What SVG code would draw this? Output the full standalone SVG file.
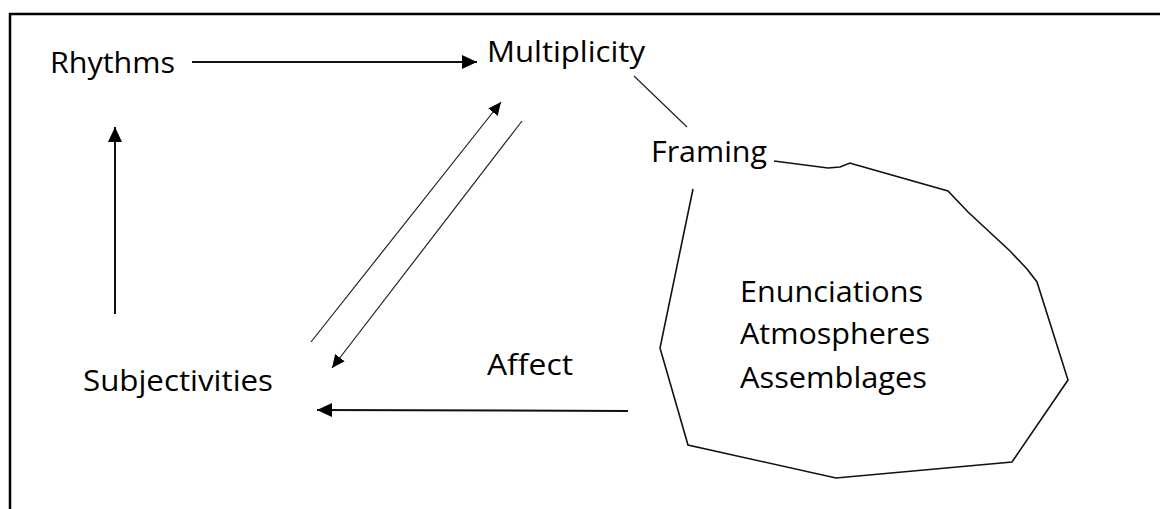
<svg xmlns="http://www.w3.org/2000/svg" width="1160" height="509" viewBox="0 0 1160 509">
<style>
  .lbl { font-family: "Open Sans", "Liberation Sans", Arial, sans-serif; font-size: 30px; fill: #000; }
  .frame { fill: none; stroke: #000; stroke-width: 2.5; }
  .thick { fill: none; stroke: #111; stroke-width: 2; }
  .thin { fill: none; stroke: #222; stroke-width: 1.2; }
  .poly { fill: none; stroke: #111; stroke-width: 1.6; stroke-linejoin: miter; }
</style>
<defs>
  <marker id="ah" markerUnits="userSpaceOnUse" markerWidth="16" markerHeight="14" refX="15" refY="7" orient="auto">
    <path d="M0,0 L15,7 L0,14 z" fill="#000"/>
  </marker>
  <marker id="ahs" markerUnits="userSpaceOnUse" markerWidth="14" markerHeight="12" refX="13" refY="6" orient="auto">
    <path d="M0,0 L13,6 L0,12 z" fill="#000"/>
  </marker>
</defs>
<rect width="1160" height="509" fill="#fff"/>
<path class="frame" d="M10,509 L10,14 L1160,14"/>

<g id="rhythms"><text class="lbl" x="50" y="73" textLength="125" lengthAdjust="spacingAndGlyphs">Rhythms</text></g>
<g id="multiplicity"><text class="lbl" x="487" y="62" textLength="158" lengthAdjust="spacingAndGlyphs">Multiplicity</text></g>
<g id="framing"><text class="lbl" x="651" y="162" textLength="116" lengthAdjust="spacingAndGlyphs">Framing</text>
  <polyline class="poly" points="774,161 828,168 840,167 850,163 853,164 948,191 968,212 1010,251 1027,269 1037,282 1068,380 1012,462 836,478 688,445 660,348 693,189"/>
</g>
<g id="inner">
  <text class="lbl" x="740" y="302" textLength="183" lengthAdjust="spacingAndGlyphs">Enunciations</text>
  <text class="lbl" x="740" y="344" textLength="190" lengthAdjust="spacingAndGlyphs">Atmospheres</text>
  <text class="lbl" x="740" y="388" textLength="187" lengthAdjust="spacingAndGlyphs">Assemblages</text>
</g>
<g id="subjectivities"><text class="lbl" x="83" y="391" textLength="190" lengthAdjust="spacingAndGlyphs">Subjectivities</text></g>
<g id="affect"><text class="lbl" x="487" y="375" textLength="86" lengthAdjust="spacingAndGlyphs">Affect</text></g>

<g id="connectors">
  <line class="thick" x1="192" y1="62" x2="477" y2="62" marker-end="url(#ah)"/>
  <line class="thick" x1="115" y1="314" x2="115" y2="127" marker-end="url(#ah)"/>
  <line class="thick" x1="628" y1="411" x2="317" y2="410" marker-end="url(#ah)"/>
  <line class="thin" x1="311" y1="342" x2="501" y2="102" marker-end="url(#ahs)"/>
  <line class="thin" x1="522" y1="121" x2="332" y2="368" marker-end="url(#ahs)"/>
  <line class="thin" x1="634" y1="76" x2="687" y2="127"/>
</g>
</svg>
